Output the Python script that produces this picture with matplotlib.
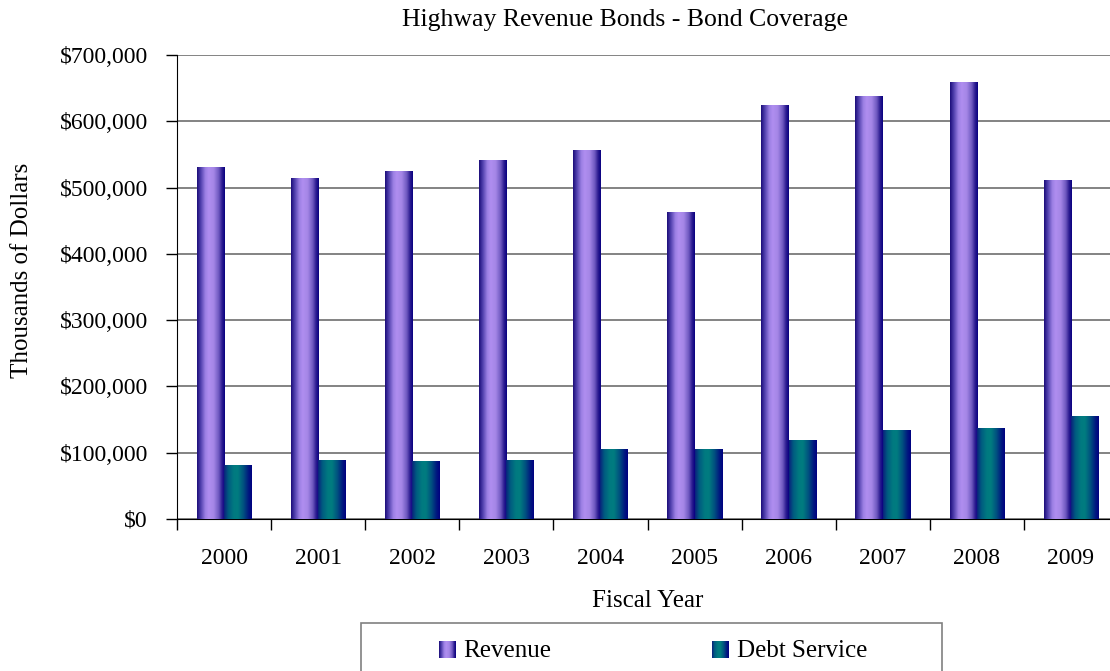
import matplotlib
matplotlib.use("Agg")
import matplotlib.pyplot as plt
import numpy as np
from matplotlib.colors import LinearSegmentedColormap
from matplotlib.patches import Rectangle
from matplotlib.legend_handler import HandlerBase
from matplotlib.image import BboxImage
from matplotlib.transforms import Bbox, TransformedBbox
from matplotlib.ticker import FuncFormatter, FixedLocator

years = ["2000", "2001", "2002", "2003", "2004", "2005", "2006", "2007", "2008", "2009"]
revenue = [531000, 513000, 525000, 541000, 556000, 463000, 624000, 637000, 659000, 510000]
debt_service = [80000, 89000, 86000, 89000, 105000, 105000, 118000, 133000, 136000, 155000]
series_names = ["Revenue", "Debt Service"]

title = "Highway Revenue Bonds - Bond Coverage"
x_label = "Fiscal Year"
y_label = "Thousands of Dollars"

plt.rcParams["font.family"] = ["Liberation Serif", "DejaVu Serif"]

# horizontal shading across each bar (cylinder look)
rev_cmap = LinearSegmentedColormap.from_list("rev", [
    (0.00, "#1a0c78"), (0.12, "#4a3aa8"), (0.30, "#9c80e4"), (0.42, "#b08ef0"),
    (0.60, "#a486e6"), (0.78, "#6e58c0"), (0.90, "#2c1c90"), (1.00, "#080080")])
debt_cmap = LinearSegmentedColormap.from_list("debt", [
    (0.00, "#0a207c"), (0.15, "#005a80"), (0.35, "#007a80"), (0.50, "#007c80"),
    (0.70, "#00507f"), (0.88, "#001880"), (1.00, "#000080")])
grad = np.linspace(0, 1, 256).reshape(1, -1)

fig = plt.figure(figsize=(11.10, 6.71), dpi=100)
ax = fig.add_axes([177 / 1110, 1 - 519 / 671, 941 / 1110, 464 / 671])

x = np.arange(len(years))
bw = 0.29
rev_bars = ax.bar(x - bw / 2, revenue, bw, color="none", edgecolor="none", zorder=3)
debt_bars = ax.bar(x + bw / 2, debt_service, bw, color="none", edgecolor="none", zorder=3)

for bars, cmap in ((rev_bars, rev_cmap), (debt_bars, debt_cmap)):
    for b in bars:
        x0, w, h = b.get_x(), b.get_width(), b.get_height()
        ax.imshow(grad, cmap=cmap, aspect="auto", extent=(x0, x0 + w, 0, h),
                  interpolation="bilinear", zorder=3)

ax.set_xlim(-0.5, len(years) - 0.5)
ax.set_ylim(0, 700000)
ax.set_yticks(np.arange(0, 700001, 100000))
ax.yaxis.set_major_formatter(FuncFormatter(lambda v, p: f"${v:,.0f}"))
ax.grid(axis="y", color="#7a7a7a", linewidth=1.3, zorder=0)
ax.set_axisbelow(True)

ax.set_xticks(x)
ax.set_xticklabels(years)
ax.xaxis.set_minor_locator(FixedLocator(np.arange(-0.5, len(years), 1.0)))
ax.tick_params(axis="x", which="major", length=0, pad=21, labelsize=17)
ax.tick_params(axis="x", which="minor", length=8, width=1, direction="out", color="black")
ax.tick_params(axis="y", length=8, width=1, direction="out", pad=13, labelsize=17)

for s in ("top", "right"):
    ax.spines[s].set_visible(False)
ax.spines["left"].set_color("black")
ax.spines["bottom"].set_color("black")

fig.text(625 / 1110, 1 - 20 / 671, title, ha="center", va="center", fontsize=18.5)
fig.text(648 / 1110, 1 - 601 / 671, x_label, ha="center", va="center", fontsize=18)
fig.text(22 / 1110, 1 - 270 / 671, y_label, ha="center", va="center", rotation=90, fontsize=18)

# legend
class GradientHandler(HandlerBase):
    def __init__(self, cmap):
        super().__init__()
        self.cmap = cmap

    def create_artists(self, legend, orig_handle, xdescent, ydescent, width, height, fontsize, trans):
        s = height * 0.95
        bb = Bbox.from_bounds(-xdescent + width - s, -ydescent - 0.5, s, s)
        img = BboxImage(TransformedBbox(bb, trans), cmap=self.cmap, interpolation="bilinear")
        img.set_data(grad)
        return [img]

frame = Rectangle((361 / 1110, 1 - 690 / 671), 581 / 1110, 67 / 671, transform=fig.transFigure,
                  facecolor="white", edgecolor="#808080", linewidth=1.2)
fig.patches.append(frame)

h1 = Rectangle((0, 0), 1, 1)
h2 = Rectangle((0, 0), 1, 1)
fig.legend([h1, h2], series_names, loc="center",
           bbox_to_anchor=(649 / 1110, 1 - 651 / 671), ncol=2, frameon=False,
           fontsize=18, handlelength=1.0, handletextpad=0.3, columnspacing=6.1,
           handler_map={h1: GradientHandler(rev_cmap), h2: GradientHandler(debt_cmap)})

fig.savefig("out.png", dpi=100)
